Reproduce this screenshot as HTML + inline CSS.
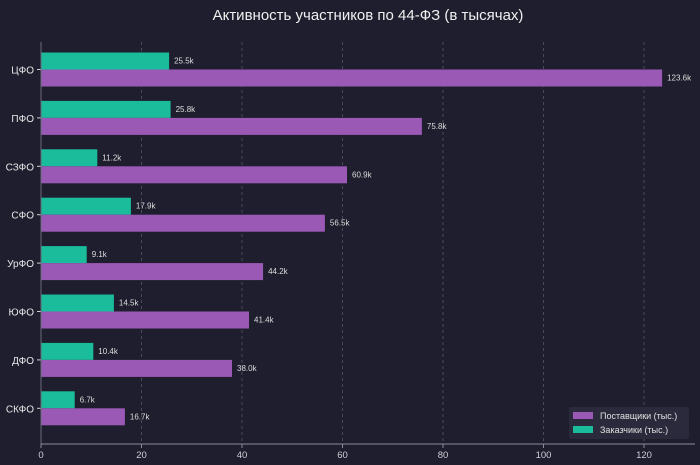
<!DOCTYPE html>
<html><head><meta charset="utf-8"><style>
body{margin:0;background:#1e1e2e;}
svg{display:block;font-family:"Liberation Sans",sans-serif;}
</style></head><body>
<svg width="700" height="465" viewBox="0 0 700 465" xmlns="http://www.w3.org/2000/svg">
<rect width="700" height="465" fill="#1e1e2e"/>
<text x="368" y="20" fill="#f0f0f0" font-size="15" text-anchor="middle">Активность участников по 44-ФЗ (в тысячах)</text>
<g stroke="#4a4a5c" stroke-dasharray="3,3" stroke-width="1">
<line x1="141.5" y1="42" x2="141.5" y2="444"/>
<line x1="242" y1="42" x2="242" y2="444"/>
<line x1="342.5" y1="42" x2="342.5" y2="444"/>
<line x1="443" y1="42" x2="443" y2="444"/>
<line x1="543.5" y1="42" x2="543.5" y2="444"/>
<line x1="644" y1="42" x2="644" y2="444"/>
</g>
<g>
<rect x="41" y="52.5" width="128.1" height="17" fill="#1abc9c"/><rect x="41" y="69.5" width="621.1" height="17" fill="#9b59b6"/>
<rect x="41" y="100.9" width="129.6" height="17" fill="#1abc9c"/><rect x="41" y="117.9" width="380.9" height="17" fill="#9b59b6"/>
<rect x="41" y="149.3" width="56.3" height="17" fill="#1abc9c"/><rect x="41" y="166.3" width="306.0" height="17" fill="#9b59b6"/>
<rect x="41" y="197.7" width="89.9" height="17" fill="#1abc9c"/><rect x="41" y="214.7" width="283.9" height="17" fill="#9b59b6"/>
<rect x="41" y="246.1" width="45.7" height="17" fill="#1abc9c"/><rect x="41" y="263.1" width="222.1" height="17" fill="#9b59b6"/>
<rect x="41" y="294.5" width="72.9" height="17" fill="#1abc9c"/><rect x="41" y="311.5" width="208.0" height="17" fill="#9b59b6"/>
<rect x="41" y="342.9" width="52.3" height="17" fill="#1abc9c"/><rect x="41" y="359.9" width="191.0" height="17" fill="#9b59b6"/>
<rect x="41" y="391.3" width="33.7" height="17" fill="#1abc9c"/><rect x="41" y="408.3" width="83.9" height="17" fill="#9b59b6"/>
</g>
<g font-size="8" fill="#dddddd">
<text x="174.1" y="63.5">25.5k</text><text x="667.1" y="80.5">123.6k</text>
<text x="175.6" y="111.9">25.8k</text><text x="426.9" y="128.9">75.8k</text>
<text x="102.3" y="160.3">11.2k</text><text x="352" y="177.3">60.9k</text>
<text x="135.9" y="208.7">17.9k</text><text x="329.9" y="225.7">56.5k</text>
<text x="91.7" y="257.1">9.1k</text><text x="268.1" y="274.1">44.2k</text>
<text x="118.9" y="305.5">14.5k</text><text x="254" y="322.5">41.4k</text>
<text x="98.3" y="353.9">10.4k</text><text x="237" y="370.9">38.0k</text>
<text x="79.7" y="402.3">6.7k</text><text x="129.9" y="419.3">16.7k</text>
</g>
<g stroke="#cfcfd8">
<line x1="37" y1="69.5" x2="41" y2="69.5"/><line x1="37" y1="117.9" x2="41" y2="117.9"/><line x1="37" y1="166.3" x2="41" y2="166.3"/><line x1="37" y1="214.7" x2="41" y2="214.7"/><line x1="37" y1="263.1" x2="41" y2="263.1"/><line x1="37" y1="311.5" x2="41" y2="311.5"/><line x1="37" y1="359.9" x2="41" y2="359.9"/><line x1="37" y1="408.3" x2="41" y2="408.3"/>
</g>
<g font-size="10" fill="#e8e8e8" text-anchor="end">
<text x="34" y="73.5">ЦФО</text><text x="34" y="121.9">ПФО</text><text x="34" y="170.3">СЗФО</text><text x="34" y="218.7">СФО</text><text x="34" y="267.1">УрФО</text><text x="34" y="315.5">ЮФО</text><text x="34" y="363.9">ДФО</text><text x="34" y="412.3">СКФО</text>
</g>
<line x1="41" y1="42" x2="41" y2="444" stroke="#6a6a7a"/>
<line x1="41" y1="444" x2="695" y2="444" stroke="#8a8a9a"/>
<g fill="#cfcfd8" font-size="9.5" text-anchor="middle">
<text x="41" y="458">0</text><text x="141.5" y="458">20</text><text x="242" y="458">40</text><text x="342.5" y="458">60</text><text x="443" y="458">80</text><text x="543.5" y="458">100</text><text x="644" y="458">120</text>
</g>
<g stroke="#8a8a9a"><line x1="41" y1="444" x2="41" y2="448"/><line x1="141.5" y1="444" x2="141.5" y2="448"/><line x1="242" y1="444" x2="242" y2="448"/><line x1="342.5" y1="444" x2="342.5" y2="448"/><line x1="443" y1="444" x2="443" y2="448"/><line x1="543.5" y1="444" x2="543.5" y2="448"/><line x1="644" y1="444" x2="644" y2="448"/></g>
<rect x="569" y="407" width="120" height="32" rx="2" fill="#2a2a3c"/>
<rect x="573" y="412" width="20" height="7" fill="#9b59b6"/>
<rect x="573" y="426" width="20" height="7" fill="#1abc9c"/>
<g fill="#e0e0e0" font-size="9"><text x="600" y="419">Поставщики (тыс.)</text><text x="600" y="433">Заказчики (тыс.)</text></g>
</svg>
</body></html>
